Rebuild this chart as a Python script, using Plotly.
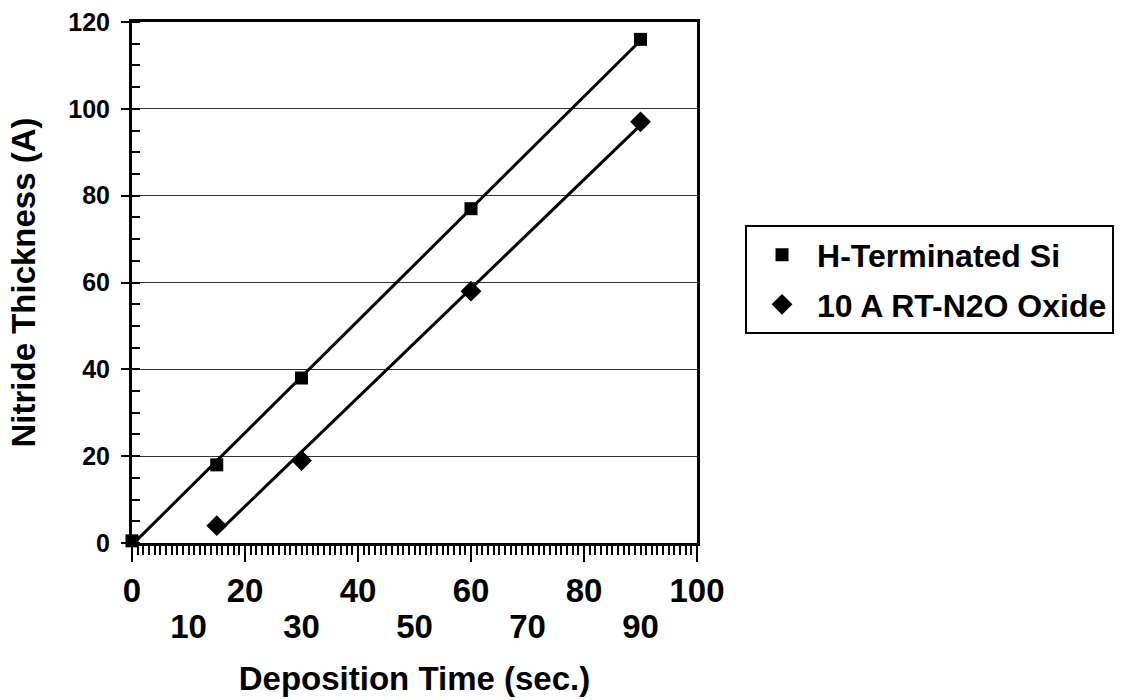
import numpy as np
import plotly.graph_objects as go

# Deposition time (s) and nitride thickness (A) for each starting surface
time_h = [0, 15, 30, 60, 90]
thick_h = [0.5, 18, 38, 77, 116]

time_ox = [15, 30, 60, 90]
thick_ox = [4, 19, 58, 97]

series_names = ["H-Terminated Si", "10 A RT-N2O Oxide"]

# x tick labels: even tens on the first row, odd tens on a lower second row
x_tick_even = [0, 20, 40, 60, 80, 100]
x_tick_odd = [10, 30, 50, 70, 90]
y_tick_vals = [0, 20, 40, 60, 80, 100, 120]

FONT = "Liberation Sans, Arial, Helvetica, sans-serif"


def linear_fit(x, y):
    slope, intercept = np.polyfit(x, y, 1)
    xs = np.array([min(x), max(x)], dtype=float)
    return xs, slope * xs + intercept


fig = go.Figure()

for xs, ys, name, symbol, size in [
    (time_h, thick_h, series_names[0], "square", 13),
    (time_ox, thick_ox, series_names[1], "diamond", 16),
]:
    fx, fy = linear_fit(xs, ys)
    # fitted line lives on the overlaid x2 axis (same range as x)
    fig.add_trace(go.Scatter(
        x=fx, y=fy, mode="lines", xaxis="x2",
        line=dict(color="black", width=3),
        showlegend=False, hoverinfo="skip",
    ))
    fig.add_trace(go.Scatter(
        x=xs, y=ys, mode="markers", name=name, legendgroup=name,
        cliponaxis=False,
        marker=dict(symbol=symbol, size=size, color="black",
                    line=dict(width=0)),
    ))

tick_font_x = dict(family=FONT, size=33, color="black", weight="bold")
title_font = dict(family=FONT, size=33, color="black", weight="bold")

fig.update_layout(
    width=1125, height=700,
    paper_bgcolor="white", plot_bgcolor="white",
    margin=dict(l=132, r=428, t=22, b=157, autoexpand=False),
    font=dict(family=FONT, color="black", weight="bold"),
    showlegend=True,
    legend=dict(
        x=1.085, xanchor="left", y=0.505, yanchor="middle",
        bordercolor="black", borderwidth=2, bgcolor="white",
        font=dict(family=FONT, size=32, color="black", weight="bold"),
        itemwidth=60, tracegroupgap=5,
    ),
    xaxis=dict(
        range=[0, 100], tickmode="array", tickvals=x_tick_even,
        ticks="outside", ticklen=16, tickwidth=2, tickcolor="black",
        ticklabelstandoff=0,
        minor=dict(dtick=1, ticks="outside", ticklen=9, tickwidth=1.5,
                   tickcolor="black", showgrid=False),
        tickfont=tick_font_x,
        showgrid=False, zeroline=False,
        showline=True, linecolor="black", linewidth=3, mirror=True,
        title=dict(text="Deposition Time (sec.)", standoff=60,
                   font=title_font),
    ),
    xaxis2=dict(
        overlaying="x", matches="x", anchor="y", side="bottom",
        range=[0, 100], tickmode="array", tickvals=x_tick_odd,
        ticks="", ticklabelstandoff=61,
        tickfont=tick_font_x,
        showgrid=False, zeroline=False, showline=False,
    ),
    yaxis=dict(
        range=[0, 120], tickmode="array", tickvals=y_tick_vals,
        ticks="outside", ticklen=8, tickwidth=2, tickcolor="black",
        ticklabelstandoff=6,
        minor=dict(dtick=5, ticks="inside", ticklen=8, tickwidth=2,
                   tickcolor="black", showgrid=False),
        tickfont=dict(family=FONT, size=25, color="black", weight="bold"),
        showgrid=True, gridcolor="#333333", gridwidth=1.2,
        zeroline=False,
        showline=True, linecolor="black", linewidth=3, mirror=True,
        title=dict(text="Nitride Thickness (A)", standoff=23,
                   font=title_font),
    ),
)

fig.write_html("out.html")
